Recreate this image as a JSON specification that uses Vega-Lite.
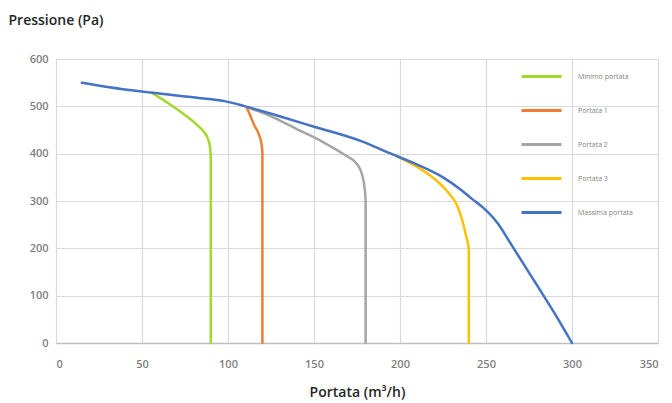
{
  "$schema": "https://vega.github.io/schema/vega-lite/v6.json",
  "autosize": {"type": "none"},
  "padding": {"left": 56, "top": 59, "right": 14, "bottom": 60},
  "width": 602,
  "height": 284,
  "background": "white",
  "config": {
    "view": {"stroke": null},
    "font": "Open Sans"
  },
  "data": {
    "values": [
      {"s": "Minimo portata", "i": 1, "x": 56, "y": 528},
      {"s": "Minimo portata", "i": 2, "x": 63, "y": 512},
      {"s": "Minimo portata", "i": 3, "x": 70, "y": 495},
      {"s": "Minimo portata", "i": 4, "x": 77, "y": 476},
      {"s": "Minimo portata", "i": 5, "x": 82, "y": 461},
      {"s": "Minimo portata", "i": 6, "x": 86, "y": 446},
      {"s": "Minimo portata", "i": 7, "x": 88.5, "y": 430},
      {"s": "Minimo portata", "i": 8, "x": 89.6, "y": 412},
      {"s": "Minimo portata", "i": 9, "x": 90, "y": 390},
      {"s": "Minimo portata", "i": 10, "x": 90, "y": 0},
      {"s": "Portata 1", "i": 1, "x": 111, "y": 496},
      {"s": "Portata 1", "i": 2, "x": 113, "y": 480},
      {"s": "Portata 1", "i": 3, "x": 115, "y": 462},
      {"s": "Portata 1", "i": 4, "x": 118, "y": 440},
      {"s": "Portata 1", "i": 5, "x": 119.5, "y": 420},
      {"s": "Portata 1", "i": 6, "x": 120, "y": 400},
      {"s": "Portata 1", "i": 7, "x": 120, "y": 0},
      {"s": "Portata 2", "i": 1, "x": 112, "y": 497},
      {"s": "Portata 2", "i": 2, "x": 125, "y": 479},
      {"s": "Portata 2", "i": 3, "x": 140, "y": 452},
      {"s": "Portata 2", "i": 4, "x": 155, "y": 425},
      {"s": "Portata 2", "i": 5, "x": 168, "y": 397},
      {"s": "Portata 2", "i": 6, "x": 175, "y": 378},
      {"s": "Portata 2", "i": 7, "x": 178, "y": 355},
      {"s": "Portata 2", "i": 8, "x": 179.5, "y": 325},
      {"s": "Portata 2", "i": 9, "x": 180, "y": 300},
      {"s": "Portata 2", "i": 10, "x": 180, "y": 0},
      {"s": "Portata 3", "i": 1, "x": 198, "y": 395},
      {"s": "Portata 3", "i": 2, "x": 210, "y": 372},
      {"s": "Portata 3", "i": 3, "x": 220, "y": 347},
      {"s": "Portata 3", "i": 4, "x": 228, "y": 318},
      {"s": "Portata 3", "i": 5, "x": 233, "y": 292},
      {"s": "Portata 3", "i": 6, "x": 236, "y": 262},
      {"s": "Portata 3", "i": 7, "x": 238.5, "y": 225},
      {"s": "Portata 3", "i": 8, "x": 240, "y": 200},
      {"s": "Portata 3", "i": 9, "x": 240, "y": 0},
      {"s": "Massima portata", "i": 1, "x": 15, "y": 550},
      {"s": "Massima portata", "i": 2, "x": 30, "y": 541},
      {"s": "Massima portata", "i": 3, "x": 55, "y": 529},
      {"s": "Massima portata", "i": 4, "x": 82, "y": 518},
      {"s": "Massima portata", "i": 5, "x": 98, "y": 511},
      {"s": "Massima portata", "i": 6, "x": 110, "y": 500},
      {"s": "Massima portata", "i": 7, "x": 130, "y": 479},
      {"s": "Massima portata", "i": 8, "x": 150, "y": 457},
      {"s": "Massima portata", "i": 9, "x": 177, "y": 427},
      {"s": "Massima portata", "i": 10, "x": 194, "y": 401},
      {"s": "Massima portata", "i": 11, "x": 210, "y": 377},
      {"s": "Massima portata", "i": 12, "x": 225, "y": 350},
      {"s": "Massima portata", "i": 13, "x": 235, "y": 325},
      {"s": "Massima portata", "i": 14, "x": 242, "y": 304},
      {"s": "Massima portata", "i": 15, "x": 248, "y": 287},
      {"s": "Massima portata", "i": 16, "x": 257, "y": 252},
      {"s": "Massima portata", "i": 17, "x": 264, "y": 212},
      {"s": "Massima portata", "i": 18, "x": 272, "y": 166},
      {"s": "Massima portata", "i": 19, "x": 280, "y": 120},
      {"s": "Massima portata", "i": 20, "x": 290, "y": 62},
      {"s": "Massima portata", "i": 21, "x": 300, "y": 0}
    ]
  },
  "mark": {"type": "line", "strokeWidth": 2.5, "strokeCap": "round", "strokeJoin": "round", "interpolate": "monotone"},
  "encoding": {
    "x": {
      "field": "x", "type": "quantitative",
      "scale": {"domain": [0, 350], "nice": false, "zero": false},
      "axis": {
        "values": [0, 50, 100, 150, 200, 250, 300, 350],
        "title": "Portata (m³/h)",
        "titleFont": "Open Sans", "titleFontSize": 14, "titleFontWeight": 600, "titleColor": "#262626",
        "titleY": 49, "titleBaseline": "middle",
        "labelFont": "Open Sans", "labelFontSize": 11, "labelFontWeight": 600, "labelColor": "#7f7f7f",
        "labelPadding": 15,
        "ticks": false,
        "domainColor": "#bfbfbf", "domainWidth": 1.5,
        "grid": true, "gridColor": "#d9d9d9", "gridWidth": 1.2
      }
    },
    "y": {
      "field": "y", "type": "quantitative",
      "scale": {"domain": [0, 600], "nice": false},
      "axis": {
        "values": [0, 100, 200, 300, 400, 500, 600],
        "title": "Pressione (Pa)",
        "titleAngle": 0, "titleAlign": "left", "titleBaseline": "middle",
        "titleX": -48, "titleY": -39,
        "titleFont": "Open Sans", "titleFontSize": 14, "titleFontWeight": 600, "titleColor": "#262626",
        "labelFont": "Open Sans", "labelFontSize": 11, "labelFontWeight": 600, "labelColor": "#7f7f7f",
        "labelPadding": 8,
        "ticks": false, "domain": false,
        "grid": true, "gridColor": "#d9d9d9", "gridWidth": 1.2
      }
    },
    "color": {
      "field": "s", "type": "nominal",
      "scale": {
        "domain": ["Minimo portata", "Portata 1", "Portata 2", "Portata 3", "Massima portata"],
        "range": ["#a2d82c", "#ed7d31", "#a5a5a5", "#ffc000", "#4472c4"]
      },
      "legend": {
        "title": null,
        "orient": "none",
        "legendX": 464,
        "legendY": -4,
        "padding": 0,
        "symbolType": "stroke",
        "symbolSize": 1600,
        "symbolStrokeWidth": 3,
        "rowPadding": 6,
        "labelOffset": 15,
        "labelFont": "Open Sans",
        "labelFontSize": 7,
        "labelColor": "#7f7f7f"
      }
    },
    "order": {"field": "i", "type": "quantitative"}
  }
}
